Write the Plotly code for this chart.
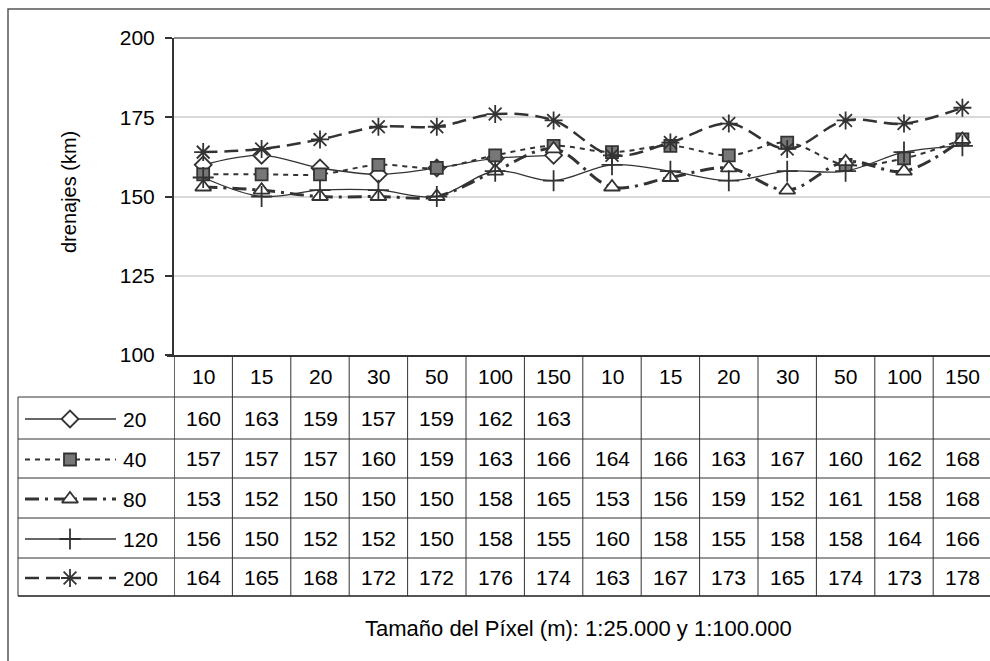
import plotly.graph_objects as go

# Pixel sizes (m) for the two map scales, 1:25.000 and 1:100.000
pixel_sizes = ["10", "15", "20", "30", "50", "100", "150",
               "10", "15", "20", "30", "50", "100", "150"]

series_names = ["20", "40", "80", "120", "200"]

drain_20 = [160, 163, 159, 157, 159, 162, 163, None, None, None, None, None, None, None]
drain_40 = [157, 157, 157, 160, 159, 163, 166, 164, 166, 163, 167, 160, 162, 168]
drain_80 = [153, 152, 150, 150, 150, 158, 165, 153, 156, 159, 152, 161, 158, 168]
drain_120 = [156, 150, 152, 152, 150, 158, 155, 160, 158, 155, 158, 158, 164, 166]
drain_200 = [164, 165, 168, 172, 172, 176, 174, 163, 167, 173, 165, 174, 173, 178]

y_ticks = [100, 125, 150, 175, 200]

W, H = 990, 661
FONT = "Arial, Liberation Sans, sans-serif"
INK = "#333333"

# page-pixel helpers (margins are zero, so paper maps 1:1 onto the page)
def px(X):
    return X / W

def py(Y):
    return 1 - Y / H

PLOT_L, PLOT_T, PLOT_B = 174, 38, 355
COL_W = 58.4
x_right = -0.5 + (W - PLOT_L) / COL_W

styles = [
    dict(dash="solid", width=1.3, symbol="diamond", size=13, fill="white"),
    dict(dash="5px,5px", width=2, symbol="square", size=12, fill="#777777"),
    dict(dash="14px,6px,3px,6px", width=3, symbol="triangle-up", size=14, fill="white"),
    dict(dash="solid", width=1.3, symbol="cross-thin-open", size=15, fill=INK),
    dict(dash="14px,7px", width=2.5, symbol="asterisk-open", size=15, fill=INK),
]

all_series = [drain_20, drain_40, drain_80, drain_120, drain_200]
xs = list(range(len(pixel_sizes)))

fig = go.Figure()
for name, vals, st in zip(series_names, all_series, styles):
    fig.add_trace(go.Scatter(
        x=xs, y=vals, name=name, mode="lines+markers",
        line=dict(color=INK, width=st["width"], dash=st["dash"],
                  shape="spline", smoothing=1.0),
        marker=dict(symbol=st["symbol"], size=st["size"], color=st["fill"],
                    line=dict(color=INK, width=1.8)),
        connectgaps=False, cliponaxis=False, showlegend=False,
        xaxis="x", yaxis="y",
    ))

# ---- data table below the plot ----
HEADER_TOP, HEADER_BOT = 356, 397
row_bounds = [397, 439, 478, 518, 558, 596]
LEG_L = 18

shapes = []
line_dark = dict(color=INK, width=1)

# outer chart frame
shapes.append(dict(type="rect", xref="paper", yref="paper",
                   x0=px(8), x1=px(1000), y0=py(9), y1=py(680),
                   line=dict(color="#555555", width=1.5), layer="below"))
# top border of the plot area (value 200)
shapes.append(dict(type="line", xref="paper", yref="paper",
                   x0=px(PLOT_L), x1=1, y0=py(PLOT_T), y1=py(PLOT_T),
                   line=dict(color="#8a8a8a", width=2)))
# header top (axis at 100)
shapes.append(dict(type="line", xref="paper", yref="paper",
                   x0=px(PLOT_L - 7), x1=1, y0=py(HEADER_TOP), y1=py(HEADER_TOP),
                   line=dict(color=INK, width=2)))
# horizontal row lines
for i, yb in enumerate(row_bounds):
    last = i == len(row_bounds) - 1
    shapes.append(dict(type="line", xref="paper", yref="paper",
                       x0=px(LEG_L), x1=1, y0=py(yb), y1=py(yb),
                       line=dict(color="#555555" if last else INK,
                                 width=2 if last else 1)))
# legend column left border
shapes.append(dict(type="line", xref="paper", yref="paper",
                   x0=px(LEG_L), x1=px(LEG_L), y0=py(row_bounds[0]), y1=py(row_bounds[-1]),
                   line=line_dark))
# vertical column lines
for i in range(len(pixel_sizes) + 1):
    shapes.append(dict(type="line", xref="x", yref="paper",
                       x0=i - 0.5, x1=i - 0.5, y0=py(HEADER_TOP), y1=py(row_bounds[-1]),
                       line=dict(color=INK, width=1.5 if i == 0 else 1)))

annotations = []
tf = dict(family=FONT, size=21, color="black")
header_y = (HEADER_TOP + HEADER_BOT) / 2
for i, lab in enumerate(pixel_sizes):
    annotations.append(dict(x=i, y=py(header_y), xref="x", yref="paper",
                            text=lab, showarrow=False, font=tf,
                            xanchor="center", yanchor="middle"))
row_centers = [(row_bounds[k] + row_bounds[k + 1]) / 2 for k in range(5)]
for name, vals, yc in zip(series_names, all_series, row_centers):
    for i, v in enumerate(vals):
        if v is None:
            continue
        annotations.append(dict(x=i, y=py(yc), xref="x", yref="paper",
                                text=str(v), showarrow=False, font=tf,
                                xanchor="center", yanchor="middle"))
    annotations.append(dict(x=px(121), y=py(yc + 1), xref="paper", yref="paper",
                            text=name, showarrow=False, font=tf,
                            xanchor="left", yanchor="middle"))

# legend swatches inside the table (overlay axis in page pixels)
for name, st, yc in zip(series_names, styles, row_centers):
    yy = yc + 1
    fig.add_trace(go.Scatter(
        x=[25, 116], y=[yy, yy], mode="lines",
        line=dict(color=INK, width=st["width"], dash=st["dash"]),
        showlegend=False, hoverinfo="skip", xaxis="x2", yaxis="y2"))
    fig.add_trace(go.Scatter(
        x=[70], y=[yy], mode="markers",
        marker=dict(symbol=st["symbol"], size=st["size"], color=st["fill"],
                    line=dict(color=INK, width=1.8)),
        showlegend=False, hoverinfo="skip", cliponaxis=False,
        xaxis="x2", yaxis="y2"))

# axis titles
annotations.append(dict(x=px(69), y=py(192), xref="paper", yref="paper",
                        text="drenajes (km)", textangle=-90, showarrow=False,
                        font=dict(family=FONT, size=20, color="black"),
                        xanchor="center", yanchor="middle"))
annotations.append(dict(x=px(578), y=py(628), xref="paper", yref="paper",
                        text="Tamaño del Píxel (m): 1:25.000 y 1:100.000",
                        showarrow=False, font=dict(family=FONT, size=22, color="black"),
                        xanchor="center", yanchor="middle"))

fig.update_layout(
    width=W, height=H, autosize=False,
    margin=dict(l=0, r=0, t=0, b=0, pad=0, autoexpand=False),
    paper_bgcolor="white", plot_bgcolor="rgba(0,0,0,0)",
    showlegend=False,
    xaxis=dict(domain=[px(PLOT_L), 1], range=[-0.5, x_right], automargin=False,
               showgrid=False, zeroline=False, showline=False,
               showticklabels=False, ticks="", fixedrange=True),
    yaxis=dict(domain=[py(PLOT_B), py(PLOT_T)], range=[100, 200], automargin=False,
               tickvals=y_ticks, ticks="outside", ticklen=7, tickwidth=1.5,
               tickcolor=INK, showline=True, linecolor=INK, linewidth=2,
               showgrid=True, gridcolor="#d9d9d9", gridwidth=2, zeroline=False,
               tickfont=dict(family=FONT, size=21, color="black"), ticklabelstandoff=6),
    xaxis2=dict(domain=[0, 1], range=[0, W], visible=False, anchor="y2", automargin=False),
    yaxis2=dict(domain=[0, 1], range=[H, 0], visible=False, anchor="x2", automargin=False),
    shapes=shapes,
    annotations=annotations,
)

fig.write_html("out.html")
